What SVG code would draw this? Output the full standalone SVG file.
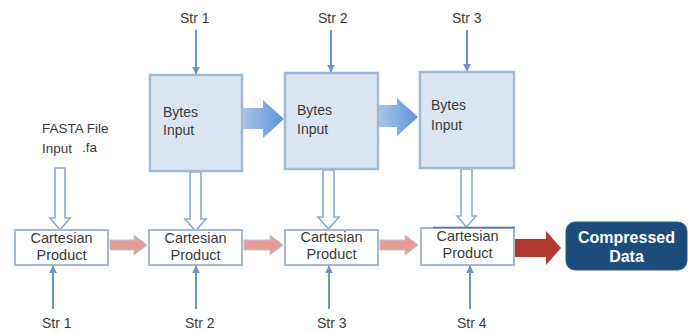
<svg xmlns="http://www.w3.org/2000/svg" width="691" height="333" viewBox="0 0 691 333">
<style>
text{font-family:"Liberation Sans",Arial,sans-serif;fill:#3a3a3a}
.t{font-size:14px}
.f{font-size:13.5px}
.c{font-size:14.5px;text-anchor:middle}
.bytes{fill:#DCE6F2;stroke:#A2B9D6;stroke-width:2.5}
.cart{fill:#FFFFFF;stroke:#A8B8D0;stroke-width:2}
.thin{stroke:#6F95C6;stroke-width:2;fill:none}
.hollow{fill:#FFFFFF;stroke:#8FA9CE;stroke-width:1.6}
.pink{fill:#E59C94;stroke:#B9C7DA;stroke-width:1}
.big{fill:url(#bg)}
.comp{font-size:16px;font-weight:bold;fill:#FFFFFF;text-anchor:middle}
</style>
<defs>
<marker id="ah" viewBox="0 0 10 10" refX="9" refY="5" markerWidth="4" markerHeight="4" orient="auto">
<path d="M0,0 L10,5 L0,10 z" fill="#6F95C6"/>
</marker>
<linearGradient id="bg" x1="0" y1="0" x2="1" y2="0">
<stop offset="0" stop-color="#A8C5EA"/>
<stop offset="1" stop-color="#5C93D8"/>
</linearGradient>
</defs>
<rect width="691" height="333" fill="#FFFFFF"/>

<g id="connectors">
<line class="thin" x1="196" y1="30" x2="196" y2="74" marker-end="url(#ah)"/>
<line class="thin" x1="331" y1="30" x2="331" y2="72" marker-end="url(#ah)"/>
<line class="thin" x1="467" y1="30" x2="467" y2="71" marker-end="url(#ah)"/>
<path class="big" d="M243,108 H263 V100 L284,119 L263,138 V129 H243 Z"/>
<path class="big" d="M379,105 H397 V98 L418,117 L397,136 V127 H379 Z"/>
<path class="hollow" d="M55,168 H65 V218 H70 L60,230 L50,218 H55 Z"/>
<path class="hollow" d="M190,172 H201 V219 H206 L195.5,231 L185,219 H190 Z"/>
<path class="hollow" d="M323,170 H334 V217 H339 L328.5,229 L318,217 H323 Z"/>
<path class="hollow" d="M461,169 H472 V216 H476 L466.5,227 L457,216 H461 Z"/>
<path class="pink" d="M110,240 H134 V235 L147,245 L134,255 V250 H110 Z"/>
<path class="pink" d="M244,240 H270 V235 L283,245 L270,255 V250 H244 Z"/>
<path class="pink" d="M380,240 H405 V235 L418,245 L405,255 V250 H380 Z"/>
<path d="M515,239 H546 V231 L561,248 L546,265 V257 H515 Z" fill="#B13A30"/>
<line class="thin" x1="53" y1="309" x2="53" y2="266" marker-end="url(#ah)"/>
<line class="thin" x1="196" y1="309" x2="196" y2="266" marker-end="url(#ah)"/>
<line class="thin" x1="329" y1="309" x2="329" y2="266" marker-end="url(#ah)"/>
<line class="thin" x1="470" y1="309" x2="470" y2="266" marker-end="url(#ah)"/>
</g>

<g id="str-top-1"><text class="t" x="180" y="23">Str 1</text></g>
<g id="str-top-2"><text class="t" x="318" y="23">Str 2</text></g>
<g id="str-top-3"><text class="t" x="452" y="23">Str 3</text></g>

<g id="fasta">
<text class="f" x="42" y="133">FASTA File</text>
<text class="f" x="42" y="153">Input</text>
<text class="f" x="82" y="152">.fa</text>
</g>

<g id="bytes1">
<rect class="bytes" x="150" y="75" width="92" height="96"/>
<text class="t" x="163" y="117">Bytes</text>
<text class="t" x="163" y="135">Input</text>
</g>
<g id="bytes2">
<rect class="bytes" x="285" y="73" width="93" height="96"/>
<text class="t" x="297" y="115">Bytes</text>
<text class="t" x="297" y="134">Input</text>
</g>
<g id="bytes3">
<rect class="bytes" x="420" y="72" width="94" height="96"/>
<text class="t" x="431" y="110">Bytes</text>
<text class="t" x="431" y="130">Input</text>
</g>

<g id="cart1">
<rect class="cart" x="15" y="230" width="93" height="35"/>
<text class="c" x="61.5" y="243">Cartesian</text>
<text class="c" x="61.5" y="260">Product</text>
</g>
<g id="cart2">
<rect class="cart" x="149" y="230" width="93" height="35"/>
<text class="c" x="195.5" y="243">Cartesian</text>
<text class="c" x="195.5" y="260">Product</text>
</g>
<g id="cart3">
<rect class="cart" x="285" y="230" width="93" height="35"/>
<text class="c" x="331.5" y="242">Cartesian</text>
<text class="c" x="331.5" y="259">Product</text>
</g>
<g id="cart4">
<rect class="cart" x="421" y="228" width="93" height="37"/>
<line x1="433" y1="227.5" x2="515" y2="227.5" stroke="#5572A8" stroke-width="1.5"/>
<text class="c" x="467.5" y="241">Cartesian</text>
<text class="c" x="467.5" y="258">Product</text>
</g>

<g id="compressed">
<rect x="566" y="222" width="121" height="48" rx="9" fill="#1C4C7C" stroke="#2E5E8E" stroke-width="1"/>
<text class="comp" x="626.5" y="243">Compressed</text>
<text class="comp" x="626.5" y="262">Data</text>
</g>

<g id="str-bottom-1"><text class="t" x="42" y="328">Str 1</text></g>
<g id="str-bottom-2"><text class="t" x="185" y="328">Str 2</text></g>
<g id="str-bottom-3"><text class="t" x="317" y="328">Str 3</text></g>
<g id="str-bottom-4"><text class="t" x="457" y="328">Str 4</text></g>
</svg>
